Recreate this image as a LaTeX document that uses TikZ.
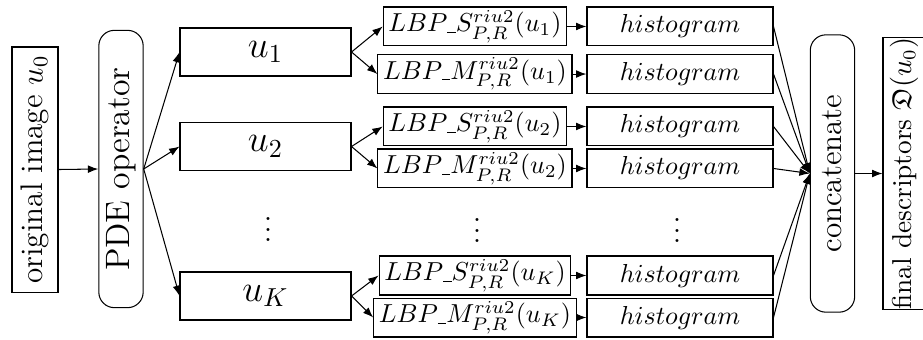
\documentclass[tikz,border=0pt]{standalone}
\usepackage{amsmath,amssymb}
\usetikzlibrary{arrows.meta,positioning,calc}
\newcommand{\lbpbar}{\rule[-0.4pt]{0.32em}{0.45pt}}

\begin{document}
\begin{tikzpicture}[
  every node/.style={align=center},
  inbox/.style={rectangle, draw, minimum width=0.622cm, minimum height=3.313cm, inner sep=0pt},
  opbox/.style={rectangle, rounded corners=6pt, draw, minimum width=0.6cm, minimum height=3.75cm, inner sep=0pt},
  ubox/.style={rectangle, draw, minimum width=2.312cm, minimum height=0.649cm, inner sep=0pt, font=\Large},
  lbpbox/.style={rectangle, draw, minimum height=0.527cm, inner xsep=2pt, inner ysep=0pt},
  histbox/.style={rectangle, draw, minimum width=2.515cm, minimum height=0.527cm, inner sep=0pt},
  dotsnode/.style={inner sep=0pt, font=\large},
  >={Latex[length=4pt,width=3pt]}
]
\useasboundingbox (0,0) rectangle (12.48,-4.584);

% Input and operator
\node[inbox] (orig) at (0.473,-2.292) {\rotatebox{90}{\large original image $u_0$}};
\node[opbox] (pde)  at (1.636,-2.285) {\rotatebox{90}{\fontsize{13}{15}\selectfont PDE operator}};

% Scale images
\node[ubox] (u1) at (3.590,-0.703) {$u_1$};
\node[ubox] (u2) at (3.590,-1.981) {$u_2$};
\node[ubox] (uK) at (3.590,-4.002) {$u_K$};
\node[dotsnode] (udots) at (3.624,-3.0) {$\vdots$};

% LBP codes
\node[lbpbox] (s1) at (6.422,-0.358) {$LBP\lbpbar S^{riu2}_{P,R}(u_1)$};
\node[lbpbox] (m1) at (6.422,-1.001) {$LBP\lbpbar M^{riu2}_{P,R}(u_1)$};
\node[lbpbox] (s2) at (6.422,-1.710) {$LBP\lbpbar S^{riu2}_{P,R}(u_2)$};
\node[lbpbox] (m2) at (6.422,-2.278) {$LBP\lbpbar M^{riu2}_{P,R}(u_2)$};
\node[lbpbox] (sK) at (6.422,-3.725) {$LBP\lbpbar S^{riu2}_{P,R}(u_K)$};
\node[lbpbox] (mK) at (6.422,-4.293) {$LBP\lbpbar M^{riu2}_{P,R}(u_K)$};
\node[dotsnode] (ldots) at (6.45,-3.015) {$\vdots$};

% Histograms
\node[histbox] (h1) at (9.194,-0.358) {$histogram$};
\node[histbox] (h2) at (9.194,-1.001) {$histogram$};
\node[histbox] (h3) at (9.194,-1.710) {$histogram$};
\node[histbox] (h4) at (9.194,-2.278) {$histogram$};
\node[histbox] (h5) at (9.194,-3.725) {$histogram$};
\node[histbox] (h6) at (9.194,-4.293) {$histogram$};
\node[dotsnode] (hdots) at (9.154,-3.015) {$\vdots$};

% Output
\node[opbox] (cat) at (11.256,-2.346) {\rotatebox{90}{\large concatenate}};
\node[inbox, minimum width=0.568cm, minimum height=3.529cm] (final) at (12.223,-2.346)
  {\rotatebox{90}{\fontsize{10.5}{12}\selectfont final descriptors $\mathfrak{D}(u_0)$}};

% Edges
\draw[->] (orig.east) -- (pde.west);
\foreach \u in {u1,u2,uK}
  \draw[->] (pde.east) -- (\u.west);
\draw[->] (u1.east) -- (s1.west);
\draw[->] (u1.east) -- (m1.west);
\draw[->] (u2.east) -- (s2.west);
\draw[->] (u2.east) -- (m2.west);
\draw[->] (uK.east) -- (sK.west);
\draw[->] (uK.east) -- (mK.west);
\foreach \l/\h in {s1/h1,m1/h2,s2/h3,m2/h4,sK/h5,mK/h6}
  \draw[->] (\l.east) -- (\h.west);
\foreach \h in {h1,h2,h3,h4,h5,h6}
  \draw[->] (\h.east) -- (cat.west);
\draw[->] (cat.east) -- (final.west);

\end{tikzpicture}
\end{document}
